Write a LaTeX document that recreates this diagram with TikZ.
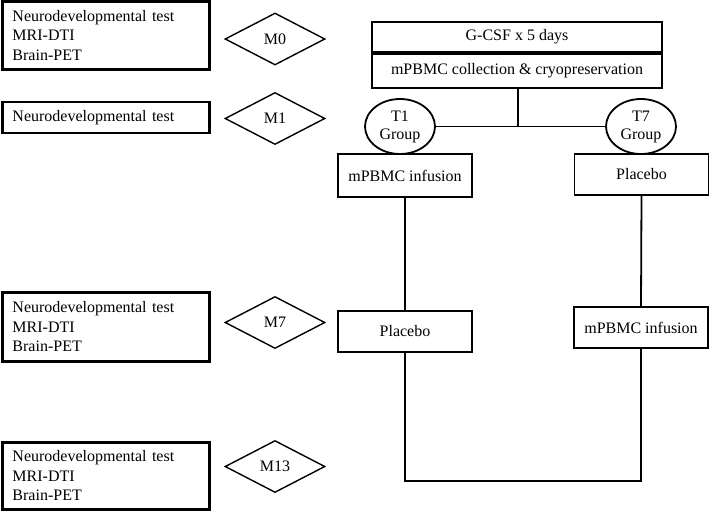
\documentclass[tikz,border=0pt]{standalone}
\usepackage{fontspec}
\setmainfont{Liberation Serif}
\usetikzlibrary{shapes.geometric}
\begin{document}
\begin{tikzpicture}[x=1pt,y=-1pt,line width=1.8pt,
  every node/.style={font=\fontsize{16}{19.5}\selectfont},
  testbox/.style={draw,rectangle,line width=2.2pt,minimum width=207pt,text width=187pt,inner xsep=10pt,align=left},
  mdiamond/.style={draw,diamond,aspect=2,minimum width=100pt,minimum height=52pt,inner sep=1pt,line width=1.4pt},
  armbox/.style={draw,rectangle,minimum width=134pt,minimum height=42pt,inner sep=2pt},
  topbox/.style={draw,rectangle,minimum width=290pt,inner sep=2pt},
  grp/.style={draw,ellipse,minimum width=70pt,minimum height=55pt,inner sep=0pt,align=center,font=\fontsize{16}{18}\selectfont}]
\useasboundingbox (0,0) rectangle (709,512);
% left column
\node[testbox,minimum height=68pt] (b0) at (106,35.5) {Neurodevelopmental test\\MRI-DTI\\Brain-PET};
\node[testbox,minimum height=31pt] (b1) at (106,117.5) {Neurodevelopmental test};
\node[testbox,minimum height=69pt] (b7) at (106,327) {Neurodevelopmental test\\MRI-DTI\\Brain-PET};
\node[testbox,minimum height=67pt] (b13) at (106,476) {Neurodevelopmental test\\MRI-DTI\\Brain-PET};
% diamonds
\node[mdiamond] (m0) at (275,39) {M0};
\node[mdiamond] (m1) at (275,118.5) {M1};
\node[mdiamond] (m7) at (275,322.5) {M7};
\node[mdiamond] (m13) at (275,466.5) {M13};
% top box
\node[topbox,minimum height=30pt] (g1) at (517,37) {G-CSF x 5 days};
\node[topbox,minimum height=34pt,anchor=north] (g2) at (g1.south) {mPBMC collection \& cryopreservation};
% groups
\node[grp] (t1) at (400,126.5) {T1\\Group};
\node[grp] (t7) at (641,126.5) {T7\\Group};
\coordinate (j) at (518,126.5);
% arm boxes
\node[armbox,minimum height=43pt] (inf1) at (405,175.5) {mPBMC infusion};
\node[armbox,minimum height=41pt] (plc1) at (641.5,174.5) {Placebo};
\node[armbox,minimum height=41pt] (plc2) at (405,331.5) {Placebo};
\node[armbox,minimum height=41pt] (inf2) at (641,327.5) {mPBMC infusion};
\coordinate (bot) at (525,481);
% connectors
\draw (g2.south -| j) -- (j);
\draw (t1.east) -- (t7.west);
\draw (inf1.south) -- (plc2.north);
\draw (plc1.south) -- (inf2.north);
\draw (plc2.south) |- (bot) -| (inf2.south);
\end{tikzpicture}
\end{document}
